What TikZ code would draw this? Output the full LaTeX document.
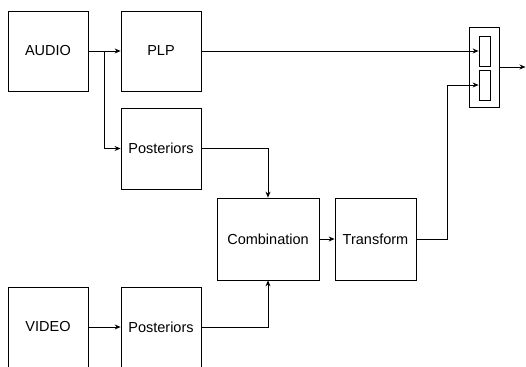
\documentclass[tikz,border=0pt]{standalone}
\usepackage{fontspec}
\setmainfont{Liberation Sans}
\usetikzlibrary{arrows.meta}
\begin{document}
\begin{tikzpicture}[x=1pt,y=-1pt,
  blk/.style={draw=black,line width=0.8pt,minimum width=#1,inner sep=0pt,font=\fontsize{14.5}{16}\selectfont},
  conn/.style={draw=black,line width=0.8pt},
  arr/.style={conn,-{Stealth[length=6pt,width=5pt,inset=2pt]}}]
\useasboundingbox (0,0) rectangle (526,366);
\clip (0,0) rectangle (526,366);
% top boxes
\node[blk=80pt,minimum height=80pt] (audio) at (48,51) {AUDIO};
\node[blk=80pt,minimum height=80pt] (plp) at (161,51) {PLP};
\node[blk=80pt,minimum height=81pt] (apost) at (161,148.5) {Posteriors};
% bottom boxes (cut by page edge)
\node[blk=80pt,minimum height=80pt] (video) at (48,327) {VIDEO};
\node[blk=80pt,minimum height=80pt] (vpost) at (161,327) {Posteriors};
\node[blk=102pt,minimum height=82pt] (comb) at (268,239) {Combination};
\node[blk=81pt,minimum height=82pt] (trans) at (375.5,239) {Transform};
% concatenation box
\node[draw=black,line width=0.8pt,minimum width=30pt,minimum height=80pt,inner sep=0pt] (cat) at (484,67) {};
\node[draw=black,line width=0.8pt,minimum width=11pt,minimum height=30pt,inner sep=0pt] (cattop) at (484.5,51) {};
\node[draw=black,line width=0.8pt,minimum width=11pt,minimum height=30pt,inner sep=0pt] (catbot) at (484.5,85) {};
\coordinate (br) at (104,51);
\coordinate (out) at (525.5,67);
% connectors
\draw[arr] (audio.east) -- (plp.west);
\draw[arr] (br) |- (apost.west);
\draw[arr] (plp.east) -- (cattop.west);
\draw[arr] (apost.east) -| (comb.north);
\draw[arr] (vpost.east) -| (comb.south);
\draw[arr] (video.east) -- (vpost.west);
\draw[arr] (comb.east) -- (trans.west);
\draw[arr] (trans.east) -- (447,239) |- (catbot.west);
\draw[arr] (cat.east) -- (out);
\end{tikzpicture}
\end{document}
